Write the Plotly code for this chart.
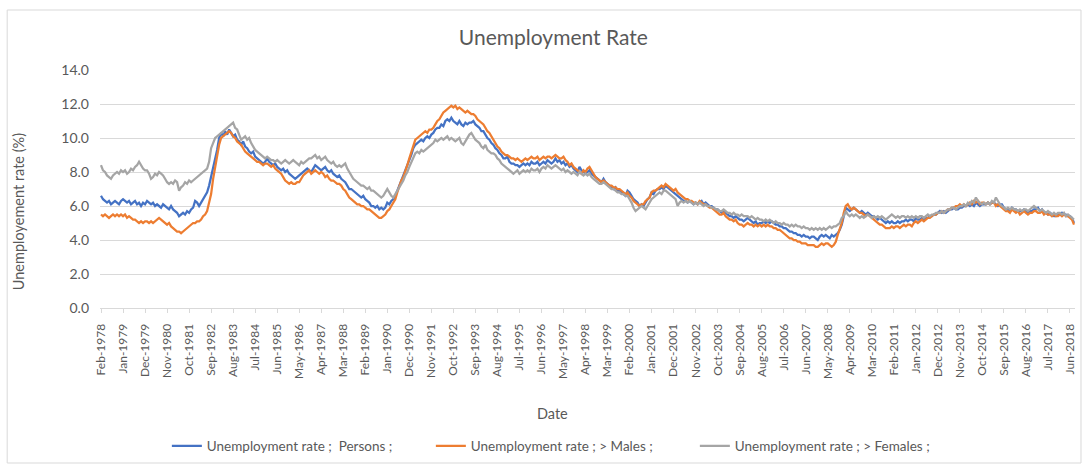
import pandas as pd
import plotly.graph_objects as go

# ---- data (monthly, Feb-1978 .. Aug-2018) ----
months = [d.strftime("%b-%Y") for d in pd.date_range("1978-02-01", "2018-08-01", freq="MS")]

persons = [
    6.6, 6.4, 6.3, 6.2, 6.3, 6.1, 6.2, 6.3, 6.2, 6.1, 6.3,
    6.4, 6.3, 6.2, 6.3, 6.1, 6.2, 6.3, 6.1, 6.2, 6.0, 6.2, 6.1,
    6.3, 6.2, 6.1, 6.2, 6.0, 6.1, 6.0, 5.9, 6.1, 6.0, 5.9, 5.8,
    6.0, 5.8, 5.7, 5.6, 5.4, 5.5, 5.6, 5.5, 5.7, 5.6, 5.8, 5.9,
    6.3, 6.2, 6.0, 6.2, 6.4, 6.6, 6.8, 7.2, 7.7, 8.2, 8.7, 9.3,
    10.0, 10.3, 10.1, 10.4, 10.2, 10.5, 10.3, 10.1, 10.2, 9.9, 9.8, 9.6,
    9.8, 9.5, 9.4, 9.2, 9.1, 9.2, 8.9, 8.8, 8.7, 8.6, 8.5, 8.6,
    8.8, 8.6, 8.5, 8.4, 8.5, 8.3, 8.2, 8.1, 8.2, 8.0, 8.1, 7.9,
    7.8, 7.7, 7.6, 7.7, 7.8, 7.9, 8.0, 8.1, 8.2, 8.1, 8.0, 8.2,
    8.4, 8.3, 8.2, 8.1, 8.2, 8.3, 8.1, 8.0, 8.1, 7.9, 7.8, 7.7,
    7.8, 7.6, 7.5, 7.4, 7.2, 7.0, 7.0, 6.9, 6.8, 6.7, 6.6, 6.5,
    6.6, 6.4, 6.3, 6.2, 6.0, 6.0, 5.9, 6.0, 5.8, 5.9, 5.8, 5.9,
    6.2, 6.1, 6.3, 6.4, 6.6, 6.9, 7.1, 7.4, 7.7, 8.0, 8.4, 8.7,
    9.0, 9.4, 9.6, 9.7, 9.8, 9.9, 9.8, 10.0, 10.1, 10.0, 10.2, 10.3,
    10.5, 10.6, 10.6, 10.8, 10.7, 11.0, 11.1, 11.0, 11.2, 11.0, 10.9, 10.8,
    11.0, 10.8, 10.7, 10.9, 10.8, 10.9, 10.9, 11.0, 10.8, 10.7, 10.6, 10.4,
    10.4, 10.2, 10.0, 9.9, 9.7, 9.6, 9.4, 9.3, 9.1, 9.0, 8.8, 8.8,
    8.9, 8.6, 8.5, 8.5, 8.4, 8.4, 8.3, 8.4, 8.5, 8.4, 8.5, 8.4,
    8.6, 8.5, 8.5, 8.6, 8.4, 8.5, 8.6, 8.5, 8.7, 8.6, 8.5, 8.6,
    8.8, 8.6, 8.7, 8.5, 8.6, 8.4, 8.5, 8.3, 8.4, 8.2, 8.1, 8.0,
    8.3, 8.1, 8.0, 7.9, 8.0, 8.1, 7.9, 7.8, 7.7, 7.6, 7.5, 7.4,
    7.6, 7.4, 7.3, 7.2, 7.1, 7.0, 7.1, 6.9, 6.9, 6.8, 6.7, 6.6,
    6.9, 6.8, 6.6, 6.4, 6.3, 6.2, 6.0, 6.1, 6.0, 6.2, 6.4, 6.5,
    6.8, 6.7, 6.9, 7.0, 7.0, 7.1, 7.0, 7.2, 7.1, 7.0, 6.9, 6.8,
    6.7, 6.6, 6.5, 6.4, 6.3, 6.3, 6.2, 6.3, 6.2, 6.1, 6.2, 6.1,
    6.2, 6.3, 6.1, 6.2, 6.1, 6.0, 6.0, 5.9, 5.8, 5.8, 5.7, 5.6,
    5.7, 5.6, 5.5, 5.4, 5.4, 5.3, 5.4, 5.3, 5.2, 5.2, 5.1, 5.2,
    5.3, 5.2, 5.1, 5.0, 5.1, 4.9, 5.0, 5.0, 5.1, 5.0, 5.1, 5.0,
    5.1, 5.0, 4.9, 4.9, 4.8, 4.8, 4.7, 4.7, 4.6, 4.5, 4.5, 4.4,
    4.4, 4.3, 4.3, 4.2, 4.3, 4.2, 4.2, 4.1, 4.2, 4.2, 4.1, 4.0,
    4.2, 4.3, 4.2, 4.3, 4.2, 4.1, 4.3, 4.2, 4.3, 4.4, 4.6, 4.9,
    5.4, 5.9, 5.8, 5.7, 5.8, 5.9, 5.8, 5.7, 5.6, 5.7, 5.6, 5.5,
    5.6, 5.5, 5.4, 5.4, 5.3, 5.2, 5.3, 5.2, 5.1, 5.0, 5.1, 5.0,
    5.1, 5.0, 5.0, 5.1, 5.0, 5.1, 5.1, 5.2, 5.1, 5.2, 5.2, 5.1,
    5.3, 5.2, 5.2, 5.3, 5.2, 5.3, 5.3, 5.4, 5.4, 5.5, 5.5, 5.6,
    5.7, 5.6, 5.7, 5.6, 5.7, 5.8, 5.8, 5.9, 5.8, 5.8, 5.9, 5.9,
    6.0, 6.0, 6.1, 6.0, 6.1, 6.0, 6.2, 6.1, 6.0, 6.1, 6.1, 6.1,
    6.2, 6.1, 6.2, 6.2, 6.1, 6.0, 6.1, 6.1, 5.9, 5.8, 5.8, 5.7,
    5.9, 5.8, 5.8, 5.7, 5.7, 5.7, 5.8, 5.7, 5.6, 5.7, 5.7, 5.8,
    5.8, 5.9, 5.7, 5.8, 5.6, 5.6, 5.5, 5.6, 5.5, 5.4, 5.4, 5.5,
    5.5, 5.6, 5.5, 5.5, 5.4, 5.4, 5.3, 5.0,
]

males = [
    5.5, 5.4, 5.5, 5.4, 5.3, 5.4, 5.5, 5.4, 5.5, 5.4, 5.5,
    5.4, 5.5, 5.3, 5.4, 5.3, 5.2, 5.2, 5.1, 5.0, 5.1, 5.0, 5.1,
    5.1, 5.0, 5.1, 5.0, 5.1, 5.2, 5.3, 5.2, 5.1, 5.0, 4.9, 5.0,
    4.8, 4.7, 4.6, 4.5, 4.5, 4.4, 4.5, 4.6, 4.7, 4.8, 4.9, 5.0,
    5.0, 5.1, 5.1, 5.2, 5.4, 5.5, 5.7, 6.2, 6.7, 7.6, 8.3, 9.0,
    9.6, 10.0, 10.1, 10.2, 10.3, 10.4, 10.3, 10.1, 10.0, 9.8, 9.7, 9.6,
    9.4, 9.2, 9.1, 9.0, 8.9, 8.8, 8.7, 8.6, 8.6, 8.5, 8.4, 8.5,
    8.5, 8.4, 8.3, 8.4, 8.2, 8.1, 8.0, 7.9, 7.7, 7.5, 7.4, 7.3,
    7.4, 7.3, 7.3, 7.4, 7.4, 7.6, 7.8, 7.9, 8.0, 8.1, 7.9, 8.0,
    8.1, 8.0, 7.9, 8.0, 7.9, 7.7, 7.8, 7.6, 7.5, 7.5, 7.4, 7.3,
    7.3, 7.2, 7.0, 6.9, 6.7, 6.5, 6.4, 6.3, 6.2, 6.1, 6.1, 6.0,
    6.0, 5.9, 5.8, 5.8, 5.7, 5.6, 5.5, 5.4, 5.3, 5.3, 5.4, 5.5,
    5.7, 5.8, 6.0, 6.2, 6.4, 6.8, 7.2, 7.5, 7.7, 8.0, 8.4, 8.8,
    9.2, 9.6, 9.9, 10.0, 10.1, 10.2, 10.3, 10.4, 10.3, 10.5, 10.5, 10.6,
    10.8, 11.0, 11.1, 11.3, 11.5, 11.6, 11.7, 11.8, 11.9, 11.8, 11.9, 11.7,
    11.8, 11.7, 11.6, 11.5, 11.6, 11.5, 11.4, 11.4, 11.3, 11.1, 11.0, 10.9,
    10.8, 10.6, 10.4, 10.3, 10.1, 9.9, 9.7, 9.5, 9.4, 9.2, 9.1, 9.0,
    9.0, 8.9, 8.8, 8.8, 8.7, 8.8, 8.7, 8.6, 8.7, 8.8, 8.7, 8.8,
    8.9, 8.8, 8.8, 8.9, 8.7, 8.8, 8.9, 8.8, 8.9, 8.9, 8.8, 8.9,
    9.0, 8.9, 8.8, 8.8, 8.9, 8.7, 8.6, 8.4, 8.5, 8.3, 8.2, 8.1,
    8.0, 7.9, 8.1, 8.0, 8.2, 8.3, 8.1, 7.9, 7.7, 7.6, 7.5, 7.4,
    7.5, 7.4, 7.3, 7.2, 7.2, 7.1, 7.1, 7.0, 7.0, 6.9, 6.8, 6.7,
    6.8, 6.6, 6.5, 6.3, 6.2, 6.1, 6.0, 6.1, 6.1, 6.3, 6.4, 6.5,
    6.8, 6.9, 6.9, 7.0, 7.1, 7.2, 7.1, 7.3, 7.2, 7.1, 7.0, 6.9,
    7.0, 6.8, 6.7, 6.6, 6.5, 6.4, 6.4, 6.3, 6.3, 6.2, 6.2, 6.1,
    6.3, 6.2, 6.1, 6.1, 6.0, 5.9, 5.9, 5.8, 5.7, 5.6, 5.5, 5.5,
    5.6, 5.4, 5.3, 5.2, 5.2, 5.1, 5.2, 5.0, 4.9, 4.9, 4.8, 4.9,
    5.0, 4.9, 4.9, 4.8, 4.9, 4.8, 4.9, 4.8, 4.9, 4.8, 4.9, 4.8,
    4.8, 4.7, 4.7, 4.6, 4.6, 4.5, 4.4, 4.3, 4.2, 4.1, 4.1, 4.0,
    4.0, 3.9, 3.9, 3.8, 3.8, 3.8, 3.7, 3.7, 3.7, 3.7, 3.6, 3.6,
    3.7, 3.8, 3.7, 3.8, 3.8, 3.7, 3.6, 3.7, 3.9, 4.3, 4.6, 5.0,
    5.6, 6.0, 6.1, 5.9, 5.8, 5.9, 5.8, 5.7, 5.6, 5.6, 5.5, 5.4,
    5.5, 5.4, 5.3, 5.2, 5.1, 5.0, 4.9, 4.9, 4.8, 4.7, 4.7, 4.7,
    4.8, 4.7, 4.8, 4.8, 4.7, 4.8, 4.9, 4.8, 4.9, 4.9, 4.8, 5.0,
    5.1, 5.0, 5.1, 5.2, 5.1, 5.2, 5.3, 5.3, 5.4, 5.5, 5.5, 5.6,
    5.6, 5.7, 5.6, 5.7, 5.8, 5.8, 5.9, 5.9, 6.0, 6.0, 6.1, 6.0,
    6.1, 6.0, 6.1, 6.2, 6.1, 6.3, 6.2, 6.3, 6.1, 6.2, 6.2, 6.1,
    6.2, 6.1, 6.2, 6.2, 6.0, 6.1, 6.0, 5.9, 5.8, 5.7, 5.7, 5.6,
    5.8, 5.7, 5.6, 5.7, 5.5, 5.6, 5.7, 5.6, 5.5, 5.6, 5.6, 5.7,
    5.7, 5.6, 5.6, 5.7, 5.5, 5.6, 5.5, 5.5, 5.4, 5.5, 5.4, 5.4,
    5.5, 5.4, 5.5, 5.4, 5.4, 5.3, 5.2, 4.9,
]

females = [
    8.4, 8.1, 8.0, 7.8, 7.7, 7.6, 7.8, 7.9, 8.0, 7.9, 8.1,
    8.0, 8.1, 7.9, 8.0, 8.2, 8.1, 8.3, 8.4, 8.6, 8.4, 8.2, 8.1,
    8.1, 7.9, 7.6, 7.7, 7.9, 7.8, 8.0, 7.9, 7.8, 7.6, 7.4, 7.3,
    7.4, 7.3, 7.5, 7.4, 6.9, 7.1, 7.2, 7.4, 7.3, 7.5, 7.4, 7.5,
    7.6, 7.7, 7.8, 7.9, 8.0, 8.1, 8.2, 8.6, 9.4, 9.7, 10.0, 10.1,
    10.2, 10.3, 10.4, 10.5, 10.6, 10.7, 10.8, 10.9, 10.6, 10.5, 10.2, 9.9,
    10.0, 10.1, 9.9, 10.0, 9.7, 9.5, 9.3, 9.2, 9.1, 9.0, 8.9, 8.8,
    8.9, 8.8, 8.7, 8.7, 8.6, 8.7, 8.6, 8.5, 8.6, 8.7, 8.6, 8.5,
    8.6, 8.7, 8.6, 8.5, 8.4, 8.6, 8.5, 8.6, 8.7, 8.8, 8.8, 8.9,
    9.0, 8.8, 8.9, 8.7, 8.8, 8.9, 8.7, 8.6, 8.5, 8.6, 8.4, 8.3,
    8.4, 8.3, 8.4, 8.5, 8.2, 8.0, 7.8, 7.6, 7.5, 7.4, 7.3, 7.2,
    7.2, 7.1, 7.0, 7.1, 6.9, 6.9, 6.8, 6.7, 6.6, 6.5, 6.6, 6.8,
    7.0, 6.8, 6.6, 6.5, 6.7, 6.9, 7.1, 7.3, 7.5, 7.8, 8.0, 8.3,
    8.6, 8.9, 9.1, 9.2, 9.1, 9.3, 9.2, 9.3, 9.4, 9.5, 9.6, 9.7,
    9.9, 9.8, 9.9, 10.0, 9.9, 10.0, 10.1, 9.9, 10.0, 9.9, 9.8, 9.9,
    10.0, 9.7, 9.6, 9.8, 10.0, 10.2, 10.3, 10.1, 9.9, 9.8, 9.7, 9.5,
    9.4, 9.6, 9.3, 9.2, 9.1, 9.1, 9.0, 8.8, 8.7, 8.5, 8.4, 8.3,
    8.2, 8.1, 8.0, 7.9, 8.0, 8.1, 7.9, 8.0, 8.1, 8.0, 8.1, 8.0,
    8.2, 8.1, 8.1, 8.2, 8.0, 8.2, 8.3, 8.2, 8.4, 8.3, 8.2, 8.3,
    8.4, 8.3, 8.2, 8.1, 8.2, 8.0, 8.1, 8.0, 7.9, 8.0, 7.9, 7.8,
    8.0, 7.9, 7.8, 7.9, 7.8, 7.9, 7.7, 7.6, 7.5, 7.4, 7.3, 7.3,
    7.4, 7.3, 7.2, 7.1, 7.0, 7.0, 6.9, 6.8, 6.8, 6.7, 6.7, 6.6,
    6.6, 6.4, 6.2, 5.9, 5.7, 5.8, 5.9, 6.0, 5.9, 5.8, 6.0, 6.2,
    6.4, 6.5, 6.6, 6.7, 6.8, 6.7, 6.9, 6.9, 6.8, 6.7, 6.6, 6.5,
    6.4, 6.0, 6.2, 6.3, 6.2, 6.3, 6.2, 6.3, 6.2, 6.1, 6.2, 6.1,
    6.2, 6.1, 6.0, 6.1, 6.0, 6.0, 5.9, 5.9, 5.8, 5.8, 5.7, 5.7,
    5.8, 5.7, 5.6, 5.6, 5.5, 5.6, 5.5, 5.5, 5.4, 5.5, 5.4, 5.4,
    5.4, 5.3, 5.4, 5.3, 5.2, 5.3, 5.2, 5.2, 5.1, 5.2, 5.1, 5.2,
    5.1, 5.0, 5.1, 5.0, 5.0, 4.9, 5.0, 4.9, 4.9, 4.8, 4.9, 4.8,
    4.9, 4.8, 4.8, 4.7, 4.8, 4.7, 4.7, 4.6, 4.7, 4.6, 4.7, 4.6,
    4.7, 4.6, 4.7, 4.6, 4.7, 4.8, 4.7, 4.8, 4.8, 4.9, 5.0, 5.3,
    5.4, 5.7, 5.5, 5.4, 5.5, 5.4, 5.5, 5.4, 5.3, 5.4, 5.3, 5.4,
    5.5, 5.4, 5.3, 5.4, 5.3, 5.4, 5.3, 5.4, 5.3, 5.2, 5.3, 5.4,
    5.5, 5.4, 5.3, 5.4, 5.3, 5.4, 5.4, 5.3, 5.4, 5.3, 5.4, 5.3,
    5.4, 5.3, 5.4, 5.4, 5.3, 5.4, 5.5, 5.4, 5.5, 5.5, 5.6, 5.6,
    5.6, 5.7, 5.6, 5.7, 5.8, 5.8, 5.9, 5.9, 5.8, 5.9, 6.0, 6.0,
    6.1, 6.0, 6.2, 6.1, 6.3, 6.2, 6.5, 6.3, 6.2, 6.1, 6.2, 6.1,
    6.2, 6.1, 6.3, 6.2, 6.5, 6.3, 6.1, 6.0, 5.9, 5.8, 5.9, 5.8,
    5.9, 5.8, 5.8, 5.7, 5.8, 5.7, 5.8, 5.8, 5.7, 5.8, 5.9, 6.0,
    5.9, 5.8, 5.7, 5.8, 5.7, 5.6, 5.7, 5.6, 5.5, 5.6, 5.5, 5.6,
    5.6, 5.5, 5.6, 5.4, 5.5, 5.4, 5.3, 5.2,
]

tick_labels = months[::11]
series_names = ["Unemployment rate ;  Persons ;",
                "Unemployment rate ; > Males ;",
                "Unemployment rate ; > Females ;"]
colors = ["#4472C4", "#ED7D31", "#A5A5A5"]

assert len(persons) == len(months) == len(males) == len(females)

FONT = "Lato"
TXT = "#595959"

fig = go.Figure()
for name, vals, col in zip(series_names, [persons, males, females], colors):
    fig.add_trace(go.Scatter(x=months, y=vals, mode="lines", name=name,
                             line=dict(color=col, width=2.25)))

W, H = 1085, 469
L, R, T, B = 100, 8, 70, 161
pw, ph = W - L - R, H - T - B

def px2paper(x, y):
    return (x - L) / pw, (H - B - y) / ph

fig.update_layout(
    width=W, height=H,
    margin=dict(l=L, r=R, t=T, b=B),
    paper_bgcolor="white", plot_bgcolor="white",
    font=dict(family=FONT, color=TXT, size=13),
    title=dict(text="Unemployment Rate", x=0.51, xanchor="center",
               y=1 - 38 / H, yanchor="middle", yref="container",
               font=dict(size=21, color=TXT, family=FONT)),
    showlegend=True,
    legend=dict(orientation="h", x=px2paper(167, 0)[0], xanchor="left",
                y=px2paper(0, 446)[1], yanchor="middle",
                entrywidth=219, entrywidthmode="pixels",
                font=dict(size=13.5, color=TXT, family=FONT),
                itemwidth=30, bgcolor="rgba(0,0,0,0)"),
    xaxis=dict(type="category", range=[-0.5, len(months) - 0.5],
               tickmode="array", tickvals=tick_labels, ticktext=tick_labels,
               tickangle=-90, tickfont=dict(size=12, color=TXT, family=FONT),
               showgrid=False, showline=True, linecolor="#d9d9d9", linewidth=1,
               ticks="outside", ticklen=4, tickcolor="#d9d9d9", zeroline=False,
               ticklabelstandoff=6),
    yaxis=dict(range=[0, 14], dtick=2, tick0=0, tickformat=".1f",
               tickfont=dict(size=14, color=TXT, family=FONT),
               showgrid=True, gridcolor="#d9d9d9", gridwidth=1,
               zeroline=False, showline=False, ticks="", ticklabelstandoff=10),
)

x0, y0 = px2paper(7, 10)
x1, y1 = px2paper(1083, 463)
fig.add_shape(type="rect", xref="paper", yref="paper", x0=x0, y0=y1, x1=x1, y1=y0,
              line=dict(color="#d9d9d9", width=1), layer="below")

ax, ay = px2paper(18, 212)
fig.add_annotation(text="Unemployement rate (%)", xref="paper", yref="paper",
                   x=ax, y=ay, xanchor="center", yanchor="middle",
                   textangle=-90, showarrow=False,
                   font=dict(size=14.5, color=TXT, family=FONT))
dx, dy = px2paper(553, 413)
fig.add_annotation(text="Date", xref="paper", yref="paper", x=dx, y=dy,
                   xanchor="center", yanchor="middle",
                   showarrow=False, font=dict(size=14.5, color=TXT, family=FONT))

fig.write_html("out.html")
